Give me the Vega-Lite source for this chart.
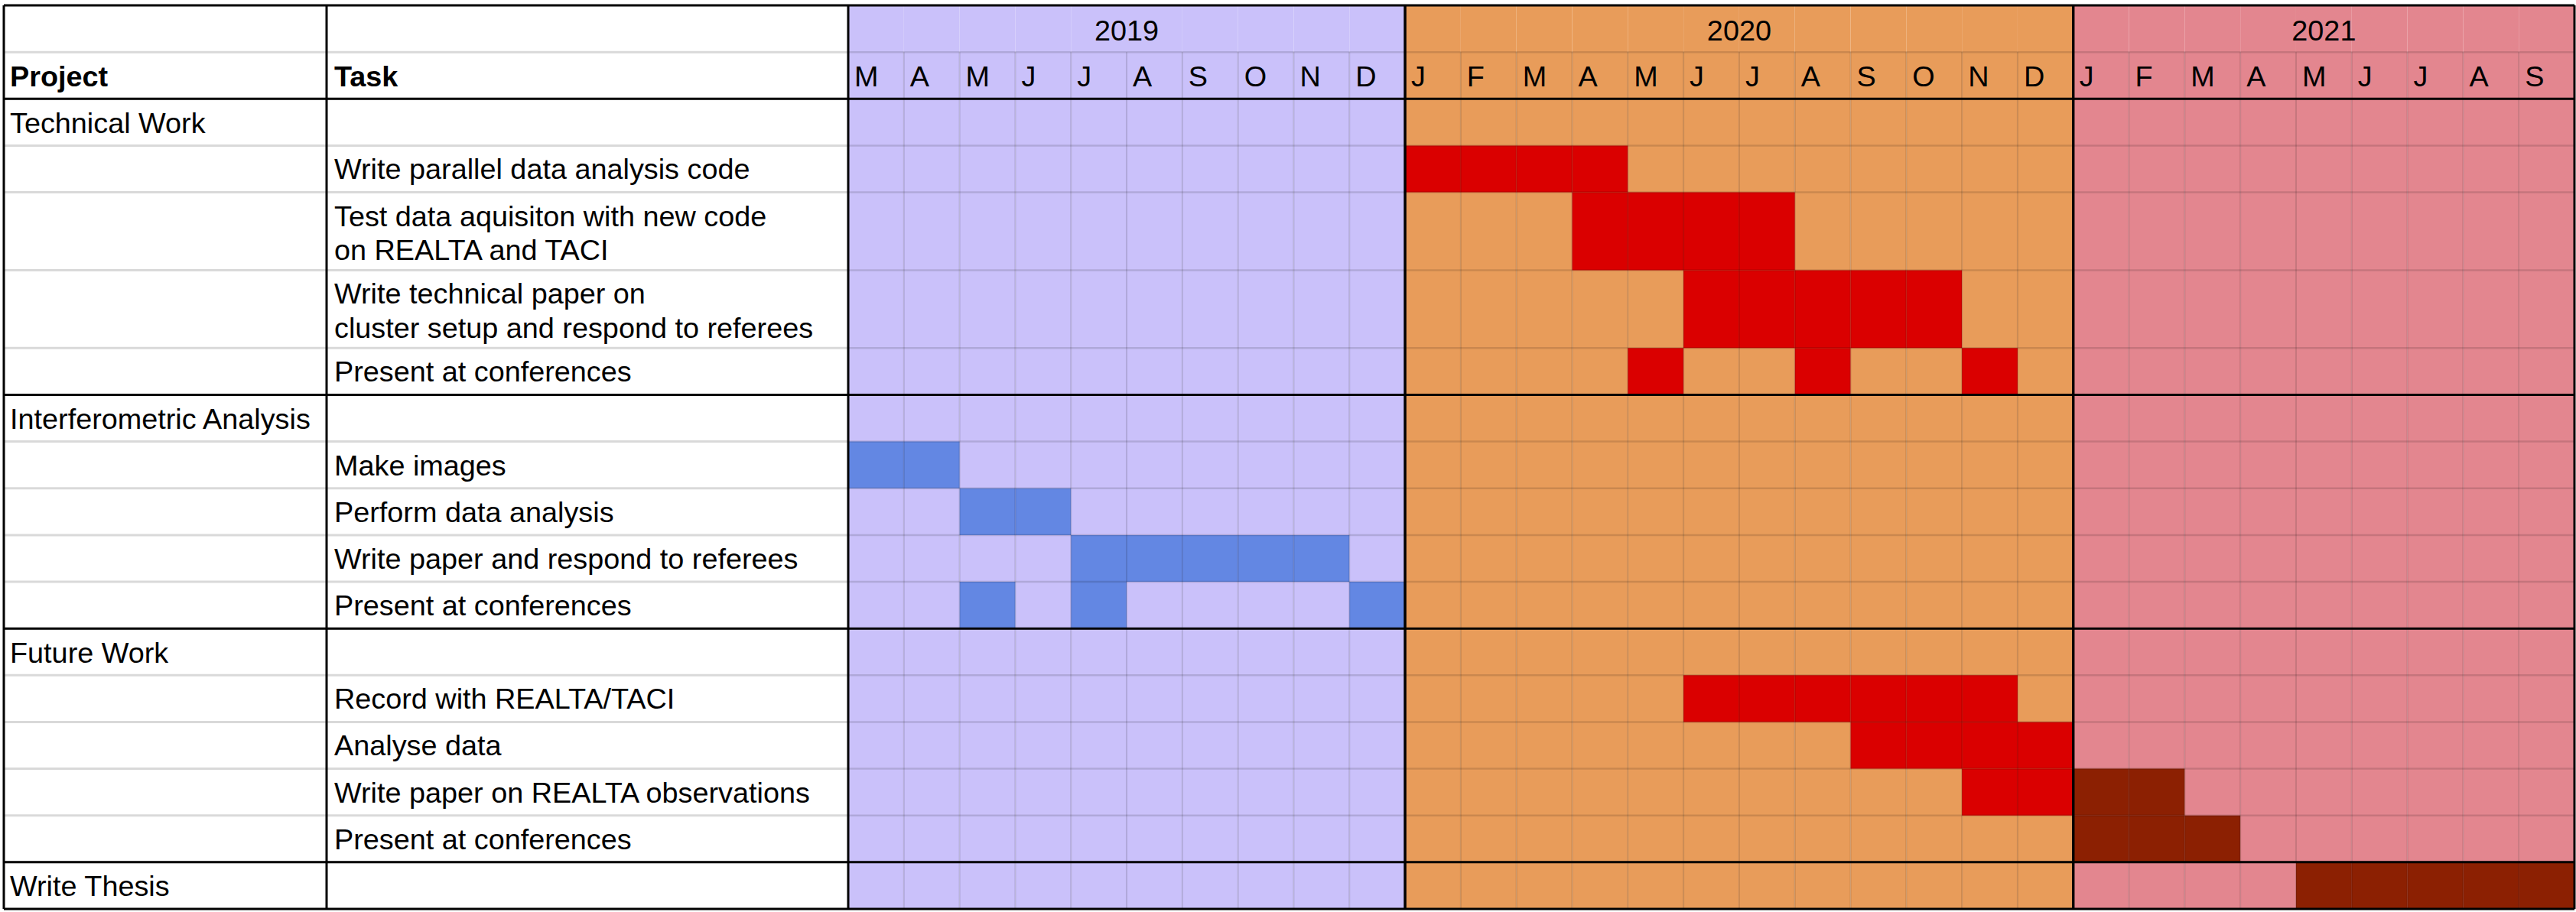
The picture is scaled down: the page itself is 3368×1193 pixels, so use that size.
{
  "$schema": "https://vega.github.io/schema/vega-lite/v6.json",
  "background": "white",
  "padding": {"left": 3, "top": 5, "right": 4, "bottom": 6},
  "spacing": 0,
  "bounds": "flush",
  "config": {"view": {"stroke": null}, "text": {"font": "Liberation Sans", "color": "black"}},
  "datasets": {
    "rows": [
      {"r": 0, "kind": "year-header"},
      {"r": 1, "kind": "column-header", "project": "Project", "task": "Task"},
      {"r": 2, "kind": "group", "project": "Technical Work"},
      {"r": 3, "kind": "task", "task": "Write parallel data analysis code"},
      {"r": 4, "kind": "task", "task": ["Test data aquisiton with new code", "on REALTA and TACI"]},
      {"r": 5, "kind": "task", "task": ["Write technical paper on", "cluster setup and respond to referees"]},
      {"r": 6, "kind": "task", "task": "Present at conferences"},
      {"r": 7, "kind": "group", "project": "Interferometric Analysis"},
      {"r": 8, "kind": "task", "task": "Make images"},
      {"r": 9, "kind": "task", "task": "Perform data analysis"},
      {"r": 10, "kind": "task", "task": "Write paper and respond to referees"},
      {"r": 11, "kind": "task", "task": "Present at conferences"},
      {"r": 12, "kind": "group", "project": "Future Work"},
      {"r": 13, "kind": "task", "task": "Record with REALTA/TACI"},
      {"r": 14, "kind": "task", "task": "Analyse data"},
      {"r": 15, "kind": "task", "task": "Write paper on REALTA observations"},
      {"r": 16, "kind": "task", "task": "Present at conferences"},
      {"r": 17, "kind": "group", "project": "Write Thesis"}
    ],
    "months": [
      {"month": "2019-03", "label": "M", "year": "2019"},
      {"month": "2019-04", "label": "A", "year": "2019"},
      {"month": "2019-05", "label": "M", "year": "2019"},
      {"month": "2019-06", "label": "J", "year": "2019"},
      {"month": "2019-07", "label": "J", "year": "2019"},
      {"month": "2019-08", "label": "A", "year": "2019"},
      {"month": "2019-09", "label": "S", "year": "2019"},
      {"month": "2019-10", "label": "O", "year": "2019"},
      {"month": "2019-11", "label": "N", "year": "2019"},
      {"month": "2019-12", "label": "D", "year": "2019"},
      {"month": "2020-01", "label": "J", "year": "2020"},
      {"month": "2020-02", "label": "F", "year": "2020"},
      {"month": "2020-03", "label": "M", "year": "2020"},
      {"month": "2020-04", "label": "A", "year": "2020"},
      {"month": "2020-05", "label": "M", "year": "2020"},
      {"month": "2020-06", "label": "J", "year": "2020"},
      {"month": "2020-07", "label": "J", "year": "2020"},
      {"month": "2020-08", "label": "A", "year": "2020"},
      {"month": "2020-09", "label": "S", "year": "2020"},
      {"month": "2020-10", "label": "O", "year": "2020"},
      {"month": "2020-11", "label": "N", "year": "2020"},
      {"month": "2020-12", "label": "D", "year": "2020"},
      {"month": "2021-01", "label": "J", "year": "2021"},
      {"month": "2021-02", "label": "F", "year": "2021"},
      {"month": "2021-03", "label": "M", "year": "2021"},
      {"month": "2021-04", "label": "A", "year": "2021"},
      {"month": "2021-05", "label": "M", "year": "2021"},
      {"month": "2021-06", "label": "J", "year": "2021"},
      {"month": "2021-07", "label": "J", "year": "2021"},
      {"month": "2021-08", "label": "A", "year": "2021"},
      {"month": "2021-09", "label": "S", "year": "2021"}
    ],
    "years": [
      {"year": "2019", "first": "2019-03", "last": "2019-12", "labelAt": "2019-08", "anchor": "start"},
      {"year": "2020", "first": "2020-01", "last": "2020-12", "labelAt": "2020-07", "anchor": "start"},
      {"year": "2021", "first": "2021-01", "last": "2021-09", "labelAt": "2021-05", "anchor": "middle"}
    ],
    "cells": [
      {"r": 3, "month": "2020-01"}, {"r": 3, "month": "2020-02"}, {"r": 3, "month": "2020-03"}, {"r": 3, "month": "2020-04"},
      {"r": 4, "month": "2020-04"}, {"r": 4, "month": "2020-05"}, {"r": 4, "month": "2020-06"}, {"r": 4, "month": "2020-07"},
      {"r": 5, "month": "2020-06"}, {"r": 5, "month": "2020-07"}, {"r": 5, "month": "2020-08"}, {"r": 5, "month": "2020-09"}, {"r": 5, "month": "2020-10"},
      {"r": 6, "month": "2020-05"}, {"r": 6, "month": "2020-08"}, {"r": 6, "month": "2020-11"},
      {"r": 8, "month": "2019-03"}, {"r": 8, "month": "2019-04"},
      {"r": 9, "month": "2019-05"}, {"r": 9, "month": "2019-06"},
      {"r": 10, "month": "2019-07"}, {"r": 10, "month": "2019-08"}, {"r": 10, "month": "2019-09"}, {"r": 10, "month": "2019-10"}, {"r": 10, "month": "2019-11"},
      {"r": 11, "month": "2019-05"}, {"r": 11, "month": "2019-07"}, {"r": 11, "month": "2019-12"},
      {"r": 13, "month": "2020-06"}, {"r": 13, "month": "2020-07"}, {"r": 13, "month": "2020-08"}, {"r": 13, "month": "2020-09"}, {"r": 13, "month": "2020-10"}, {"r": 13, "month": "2020-11"},
      {"r": 14, "month": "2020-09"}, {"r": 14, "month": "2020-10"}, {"r": 14, "month": "2020-11"}, {"r": 14, "month": "2020-12"},
      {"r": 15, "month": "2020-11"}, {"r": 15, "month": "2020-12"}, {"r": 15, "month": "2021-01"}, {"r": 15, "month": "2021-02"},
      {"r": 16, "month": "2021-01"}, {"r": 16, "month": "2021-02"}, {"r": 16, "month": "2021-03"},
      {"r": 17, "month": "2021-05"}, {"r": 17, "month": "2021-06"}, {"r": 17, "month": "2021-07"}, {"r": 17, "month": "2021-08"}, {"r": 17, "month": "2021-09"}
    ]
  },
  "hconcat": [
    {
      "width": 422,
      "height": 1182,
      "data": {"name": "rows"},
      "layer": [
        {
          "transform": [{"filter": "datum.r > 0"}],
          "mark": {"type": "rule", "color": "black", "opacity": 0.15, "strokeWidth": 3},
          "encoding": {"y": {"field": "r", "type": "quantitative", "scale": {"type": "linear", "domain": [0, 4, 6, 18], "range": [0, 244.55, 448.34, 1182], "nice": false, "zero": false}, "axis": null}}
        },
        {
          "transform": [{"filter": "datum.kind == 'year-header' || datum.kind == 'group'"}],
          "mark": {"type": "rule", "color": "black", "strokeWidth": 3},
          "encoding": {"y": {"field": "r", "type": "quantitative", "axis": null}}
        },
        {
          "transform": [{"filter": "datum.kind == 'year-header'"}],
          "mark": {"type": "rule", "color": "black", "strokeWidth": 3},
          "encoding": {"y": {"datum": 18, "type": "quantitative", "axis": null}}
        },
        {
          "transform": [{"filter": "datum.kind == 'year-header'"}],
          "mark": {"type": "rule", "color": "black", "strokeWidth": 3},
          "encoding": {
            "x": {"datum": 0, "type": "quantitative", "scale": {"domain": [0, 1], "nice": false, "zero": false}, "axis": null},
            "y": {"datum": 0, "type": "quantitative", "axis": null},
            "y2": {"datum": 18}
          }
        },
        {
          "transform": [{"filter": "datum.kind == 'year-header'"}],
          "mark": {"type": "rule", "color": "black", "strokeWidth": 3},
          "encoding": {
            "x": {"datum": 1, "type": "quantitative", "axis": null},
            "y": {"datum": 0, "type": "quantitative", "axis": null},
            "y2": {"datum": 18}
          }
        },
        {
          "transform": [{"filter": "datum.kind == 'group'"}],
          "mark": {"type": "text", "align": "left", "baseline": "alphabetic", "dx": 8, "dy": 44.5, "fontSize": 37.8, "font": "Liberation Sans", "color": "black"},
          "encoding": {
            "x": {"datum": 0, "type": "quantitative", "axis": null},
            "y": {"field": "r", "type": "quantitative", "axis": null},
            "text": {"field": "project", "type": "nominal"}
          }
        },
        {
          "transform": [{"filter": "datum.kind == 'column-header'"}],
          "mark": {"type": "text", "align": "left", "baseline": "alphabetic", "dx": 8, "dy": 44.5, "fontSize": 37.8, "fontWeight": "bold", "font": "Liberation Sans", "color": "black"},
          "encoding": {
            "x": {"datum": 0, "type": "quantitative", "axis": null},
            "y": {"field": "r", "type": "quantitative", "axis": null},
            "text": {"field": "project", "type": "nominal"}
          }
        }
      ]
    },
    {
      "width": 682,
      "height": 1182,
      "data": {"name": "rows"},
      "layer": [
        {
          "transform": [{"filter": "datum.r > 0"}],
          "mark": {"type": "rule", "color": "black", "opacity": 0.15, "strokeWidth": 3},
          "encoding": {"y": {"field": "r", "type": "quantitative", "scale": {"type": "linear", "domain": [0, 4, 6, 18], "range": [0, 244.55, 448.34, 1182], "nice": false, "zero": false}, "axis": null}}
        },
        {
          "transform": [{"filter": "datum.kind == 'year-header' || datum.kind == 'group'"}],
          "mark": {"type": "rule", "color": "black", "strokeWidth": 3},
          "encoding": {"y": {"field": "r", "type": "quantitative", "axis": null}}
        },
        {
          "transform": [{"filter": "datum.kind == 'year-header'"}],
          "mark": {"type": "rule", "color": "black", "strokeWidth": 3},
          "encoding": {"y": {"datum": 18, "type": "quantitative", "axis": null}}
        },
        {
          "transform": [{"filter": "datum.kind == 'task'"}],
          "mark": {"type": "text", "align": "left", "baseline": "alphabetic", "dx": 10, "dy": 44, "fontSize": 37.8, "lineHeight": 44.5, "font": "Liberation Sans", "color": "black"},
          "encoding": {
            "x": {"datum": 0, "type": "quantitative", "scale": {"domain": [0, 1], "nice": false, "zero": false}, "axis": null},
            "y": {"field": "r", "type": "quantitative", "axis": null},
            "text": {"field": "task", "type": "nominal"}
          }
        },
        {
          "transform": [{"filter": "datum.kind == 'column-header'"}],
          "mark": {"type": "text", "align": "left", "baseline": "alphabetic", "dx": 10, "dy": 44.5, "fontSize": 37.8, "fontWeight": "bold", "font": "Liberation Sans", "color": "black"},
          "encoding": {
            "x": {"datum": 0, "type": "quantitative", "axis": null},
            "y": {"field": "r", "type": "quantitative", "axis": null},
            "text": {"field": "task", "type": "nominal"}
          }
        }
      ]
    },
    {
      "width": 2257,
      "height": 1182,
      "layer": [
        {
          "data": {"name": "months"},
          "mark": {"type": "rect"},
          "encoding": {
            "x": {"field": "month", "type": "ordinal", "scale": {"type": "band", "paddingInner": 0, "paddingOuter": 0}, "axis": null},
            "y": {"datum": 0, "type": "quantitative", "scale": {"type": "linear", "domain": [0, 4, 6, 18], "range": [0, 244.55, 448.34, 1182], "nice": false, "zero": false}, "axis": null},
            "y2": {"datum": 18},
            "fill": {"field": "year", "type": "nominal", "scale": {"domain": ["2019", "2020", "2021"], "range": ["#cac1fa", "#e89c5a", "#e3868f"]}, "legend": null}
          }
        },
        {
          "data": {"name": "cells"},
          "transform": [
            {"calculate": "slice(datum.month, 0, 4)", "as": "year"},
            {"calculate": "datum.r + 1", "as": "r2"}
          ],
          "mark": {"type": "rect"},
          "encoding": {
            "x": {"field": "month", "type": "ordinal", "axis": null},
            "y": {"field": "r", "type": "quantitative", "axis": null},
            "y2": {"field": "r2"},
            "color": {"field": "year", "type": "nominal", "scale": {"domain": ["2019", "2020", "2021"], "range": ["#6387e3", "#da0000", "#8c2002"]}, "legend": null}
          }
        },
        {
          "data": {"name": "months"},
          "mark": {"type": "rule", "color": "black", "opacity": 0.13, "strokeWidth": 2},
          "encoding": {
            "x": {"field": "month", "type": "ordinal", "bandPosition": 0, "axis": null},
            "y": {"datum": 1, "type": "quantitative", "axis": null},
            "y2": {"datum": 18}
          }
        },
        {
          "data": {"name": "rows"},
          "transform": [{"filter": "datum.r > 0"}],
          "mark": {"type": "rule", "color": "black", "opacity": 0.13, "strokeWidth": 2.5},
          "encoding": {"y": {"field": "r", "type": "quantitative", "axis": null}}
        },
        {
          "data": {"name": "rows"},
          "transform": [{"filter": "datum.kind == 'year-header' || datum.kind == 'group'"}],
          "mark": {"type": "rule", "color": "black", "strokeWidth": 3},
          "encoding": {"y": {"field": "r", "type": "quantitative", "axis": null}}
        },
        {
          "data": {"name": "years"},
          "mark": {"type": "rule", "color": "black", "strokeWidth": 3},
          "encoding": {
            "x": {"field": "first", "type": "ordinal", "bandPosition": 0, "axis": null},
            "y": {"datum": 0, "type": "quantitative", "axis": null},
            "y2": {"datum": 18}
          }
        },
        {
          "data": {"name": "years"},
          "mark": {"type": "rule", "color": "black", "strokeWidth": 3},
          "encoding": {
            "x": {"field": "last", "type": "ordinal", "bandPosition": 1, "axis": null},
            "y": {"datum": 0, "type": "quantitative", "axis": null},
            "y2": {"datum": 18}
          }
        },
        {
          "data": {"name": "years"},
          "transform": [{"filter": "datum.year == '2021'"}],
          "mark": {"type": "rule", "color": "black", "strokeWidth": 3},
          "encoding": {"y": {"datum": 18, "type": "quantitative", "axis": null}}
        },
        {
          "data": {"name": "months"},
          "mark": {"type": "text", "align": "left", "baseline": "alphabetic", "dx": 8, "dy": 45, "fontSize": 37.8, "font": "Liberation Sans", "color": "black"},
          "encoding": {
            "x": {"field": "month", "type": "ordinal", "bandPosition": 0, "axis": null},
            "y": {"datum": 1, "type": "quantitative", "axis": null},
            "text": {"field": "label", "type": "nominal"}
          }
        },
        {
          "data": {"name": "years"},
          "transform": [{"filter": "datum.anchor == 'start'"}],
          "mark": {"type": "text", "align": "center", "baseline": "alphabetic", "dy": 45.5, "fontSize": 37.8, "font": "Liberation Sans", "color": "black"},
          "encoding": {
            "x": {"field": "labelAt", "type": "ordinal", "bandPosition": 0, "axis": null},
            "y": {"datum": 0, "type": "quantitative", "axis": null},
            "text": {"field": "year", "type": "nominal"}
          }
        },
        {
          "data": {"name": "years"},
          "transform": [{"filter": "datum.anchor == 'middle'"}],
          "mark": {"type": "text", "align": "center", "baseline": "alphabetic", "dy": 45.5, "fontSize": 37.8, "font": "Liberation Sans", "color": "black"},
          "encoding": {
            "x": {"field": "labelAt", "type": "ordinal", "bandPosition": 0.5, "axis": null},
            "y": {"datum": 0, "type": "quantitative", "axis": null},
            "text": {"field": "year", "type": "nominal"}
          }
        }
      ]
    }
  ]
}
